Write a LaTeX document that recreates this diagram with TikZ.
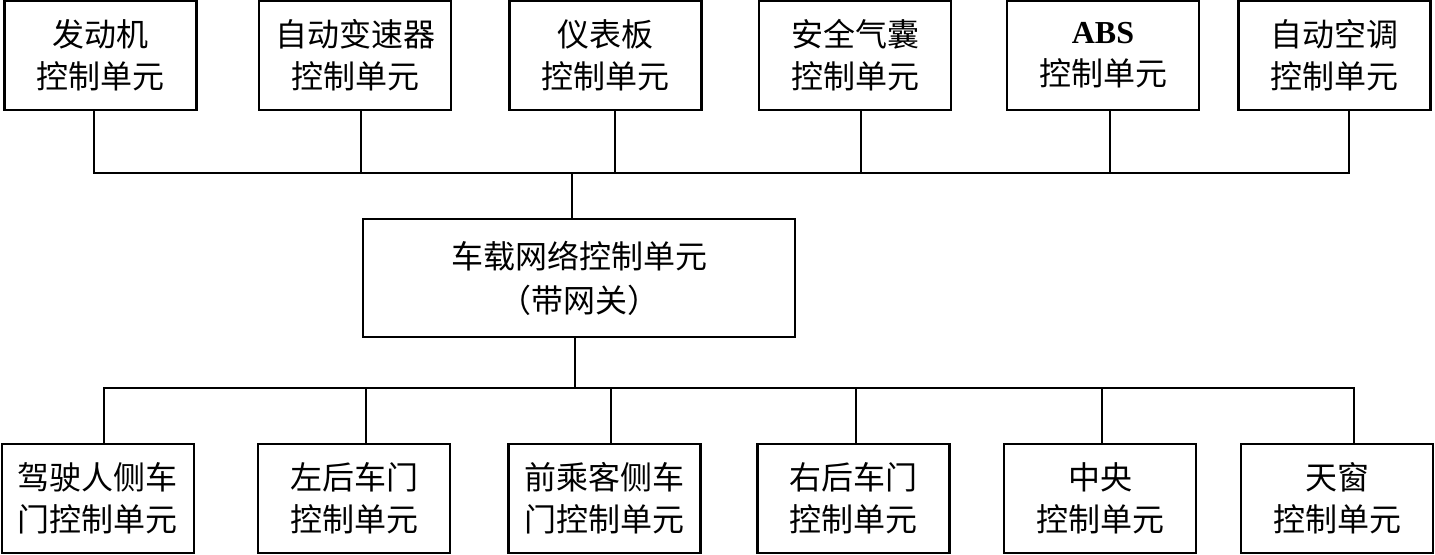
\documentclass[tikz,border=0pt]{standalone}
\usepackage{fontspec}
\setmainfont{Liberation Serif}
\newfontfamily\cjk{Noto Sans CJK SC}
\begin{document}
\begin{tikzpicture}[x=0.5pt, y=-0.5pt,
  ecu/.style={draw, line width=1.1pt, align=center, minimum width=96pt,
              minimum height=54.5pt, inner sep=0pt, font=\cjk\fontsize{16}{21}\selectfont},
  gw/.style={ecu, minimum width=216pt, minimum height=59pt,
             font=\cjk\fontsize{16}{22}\selectfont},
  bus/.style={line width=0.9pt}]
  \useasboundingbox (0,0) rectangle (1435,555);
  % top row
  \node[ecu] (eng)  at (100.5,55.5) {发动机\\控制单元};
  \node[ecu] (atm)  at (355,55.5)   {自动变速器\\控制单元};
  \node[ecu] (dash) at (605.5,55.5) {仪表板\\控制单元};
  \node[ecu] (bag)  at (855,55.5)   {安全气囊\\控制单元};
  \node[ecu] (abs)  at (1103,55.5)  {{\rmfamily\bfseries ABS}\\控制单元};
  \node[ecu] (hvac) at (1334.5,55.5) {自动空调\\控制单元};
  % gateway
  \node[gw] (gate) at (579,278) {车载网络控制单元\\（带网关）};
  % bottom row
  \node[ecu] (drv)  at (98,498.5)   {驾驶人侧车\\门控制单元};
  \node[ecu] (lrd)  at (354,498.5)  {左后车门\\控制单元};
  \node[ecu] (psg)  at (604.5,498.5) {前乘客侧车\\门控制单元};
  \node[ecu] (rrd)  at (853.5,498.5) {右后车门\\控制单元};
  \node[ecu] (cen)  at (1100,498.5) {中央\\控制单元};
  \node[ecu] (roof) at (1337,498.5) {天窗\\控制单元};
  % buses
  \coordinate (topbus) at (0,173);
  \coordinate (botbus) at (0,388);
  \draw[bus] ([xshift=-3.25pt]eng.south) |- ([xshift=7.25pt]hvac.south |- topbus) -- ([xshift=7.25pt]hvac.south);
  \draw[bus] ([xshift=3pt]atm.south) -- ([xshift=3pt]atm.south |- topbus);
  \draw[bus] ([xshift=4.75pt]dash.south) -- ([xshift=4.75pt]dash.south |- topbus);
  \draw[bus] ([xshift=3pt]bag.south) -- ([xshift=3pt]bag.south |- topbus);
  \draw[bus] ([xshift=3.5pt]abs.south) -- ([xshift=3.5pt]abs.south |- topbus);
  \draw[bus] ([xshift=-3.5pt]gate.north) -- ([xshift=-3.5pt]gate.north |- topbus);
  \draw[bus] ([xshift=-2pt]gate.south) -- ([xshift=-2pt]gate.south |- botbus);
  \draw[bus] ([xshift=3pt]drv.north) |- ([xshift=8.5pt]roof.north |- botbus) -- ([xshift=8.5pt]roof.north);
  \draw[bus] ([xshift=6pt]lrd.north) -- ([xshift=6pt]lrd.north |- botbus);
  \draw[bus] ([xshift=3.25pt]psg.north) -- ([xshift=3.25pt]psg.north |- botbus);
  \draw[bus] ([xshift=1.25pt]rrd.north) -- ([xshift=1.25pt]rrd.north |- botbus);
  \draw[bus] ([xshift=1pt]cen.north) -- ([xshift=1pt]cen.north |- botbus);
\end{tikzpicture}
\end{document}
